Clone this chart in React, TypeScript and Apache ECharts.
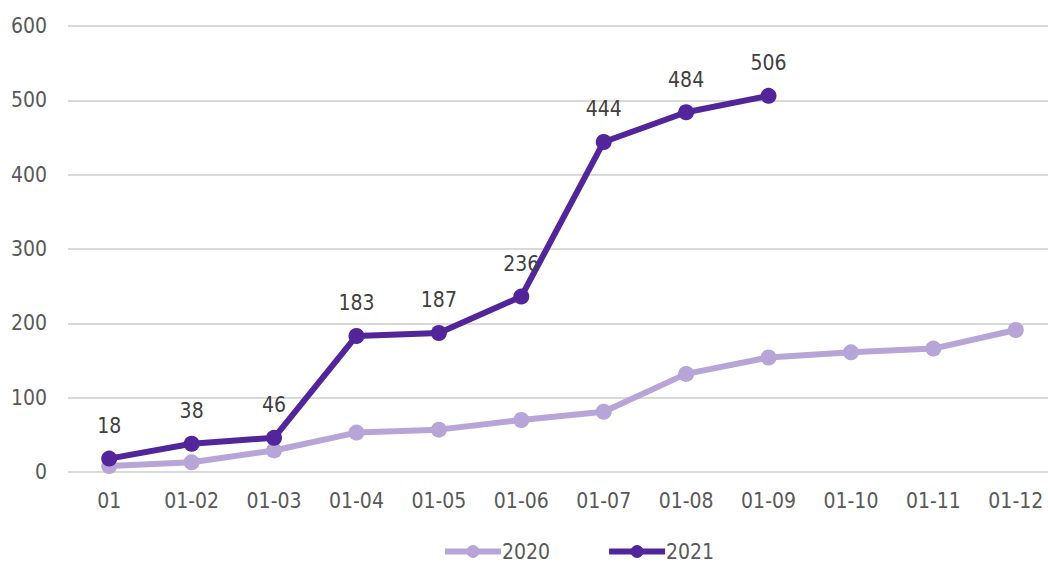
import React, { useEffect, useRef } from "react";
import * as echarts from "echarts";

const categories = ["01", "01-02", "01-03", "01-04", "01-05", "01-06", "01-07", "01-08", "01-09", "01-10", "01-11", "01-12"];
const series2020 = [8, 13, 29, 53, 57, 70, 81, 132, 154, 161, 166, 191];
const series2021 = [18, 38, 46, 183, 187, 236, 444, 484, 506];
const yTicks = { min: 0, max: 600, interval: 100 };

const FONT = "'DejaVu Sans Condensed', 'Liberation Sans Narrow', sans-serif";
const C2020 = "#b8a5d7";
const C2021 = "#52259a";

export default function App() {
  const ref = useRef<HTMLDivElement>(null);
  useEffect(() => {
    if (!ref.current) return;
    const chart = echarts.init(ref.current, undefined, { renderer: "svg" });
    chart.setOption({
      animation: false,
      backgroundColor: "#ffffff",
      grid: { left: 68, width: 989, top: 26, bottom: 92, outerBoundsMode: "none", containLabel: false },
      legend: {
        top: 536,
        left: 437,
        itemWidth: 56,
        itemHeight: 16,
        itemGap: 56,
        lineStyle: { width: 6 },
        textStyle: { fontFamily: FONT, fontSize: 21, color: "#595959", padding: [0, 0, 0, -4] },
        data: ["2020", "2021"],
      },
      xAxis: {
        type: "category",
        data: categories,
        boundaryGap: true,
        axisLine: { show: false },
        axisTick: { show: false },
        axisLabel: { fontFamily: FONT, fontSize: 21, color: "#595959", margin: 18 },
      },
      yAxis: {
        type: "value",
        min: yTicks.min,
        max: yTicks.max,
        interval: yTicks.interval,
        axisLine: { show: false },
        axisTick: { show: false },
        axisLabel: { fontFamily: FONT, fontSize: 21, color: "#595959", margin: 21 },
        splitLine: { lineStyle: { color: "#d9d9d9", width: 2 } },
      },
      series: [
        {
          name: "2020",
          type: "line",
          data: series2020,
          symbol: "circle",
          symbolSize: 16,
          lineStyle: { color: C2020, width: 6 },
          itemStyle: { color: C2020 },
          z: 2,
        },
        {
          name: "2021",
          type: "line",
          data: series2021,
          symbol: "circle",
          symbolSize: 16,
          lineStyle: { color: C2021, width: 6 },
          itemStyle: { color: C2021 },
          label: {
            show: true,
            position: "top",
            distance: 14,
            fontFamily: FONT,
            fontSize: 21,
            color: "#404040",
          },
          z: 3,
        },
      ],
    });
    return () => chart.dispose();
  }, []);
  return (
    <div
      ref={ref}
      style={{ position: "fixed", left: 0, top: 0, width: 1048, height: 564 }}
    />
  );
}
